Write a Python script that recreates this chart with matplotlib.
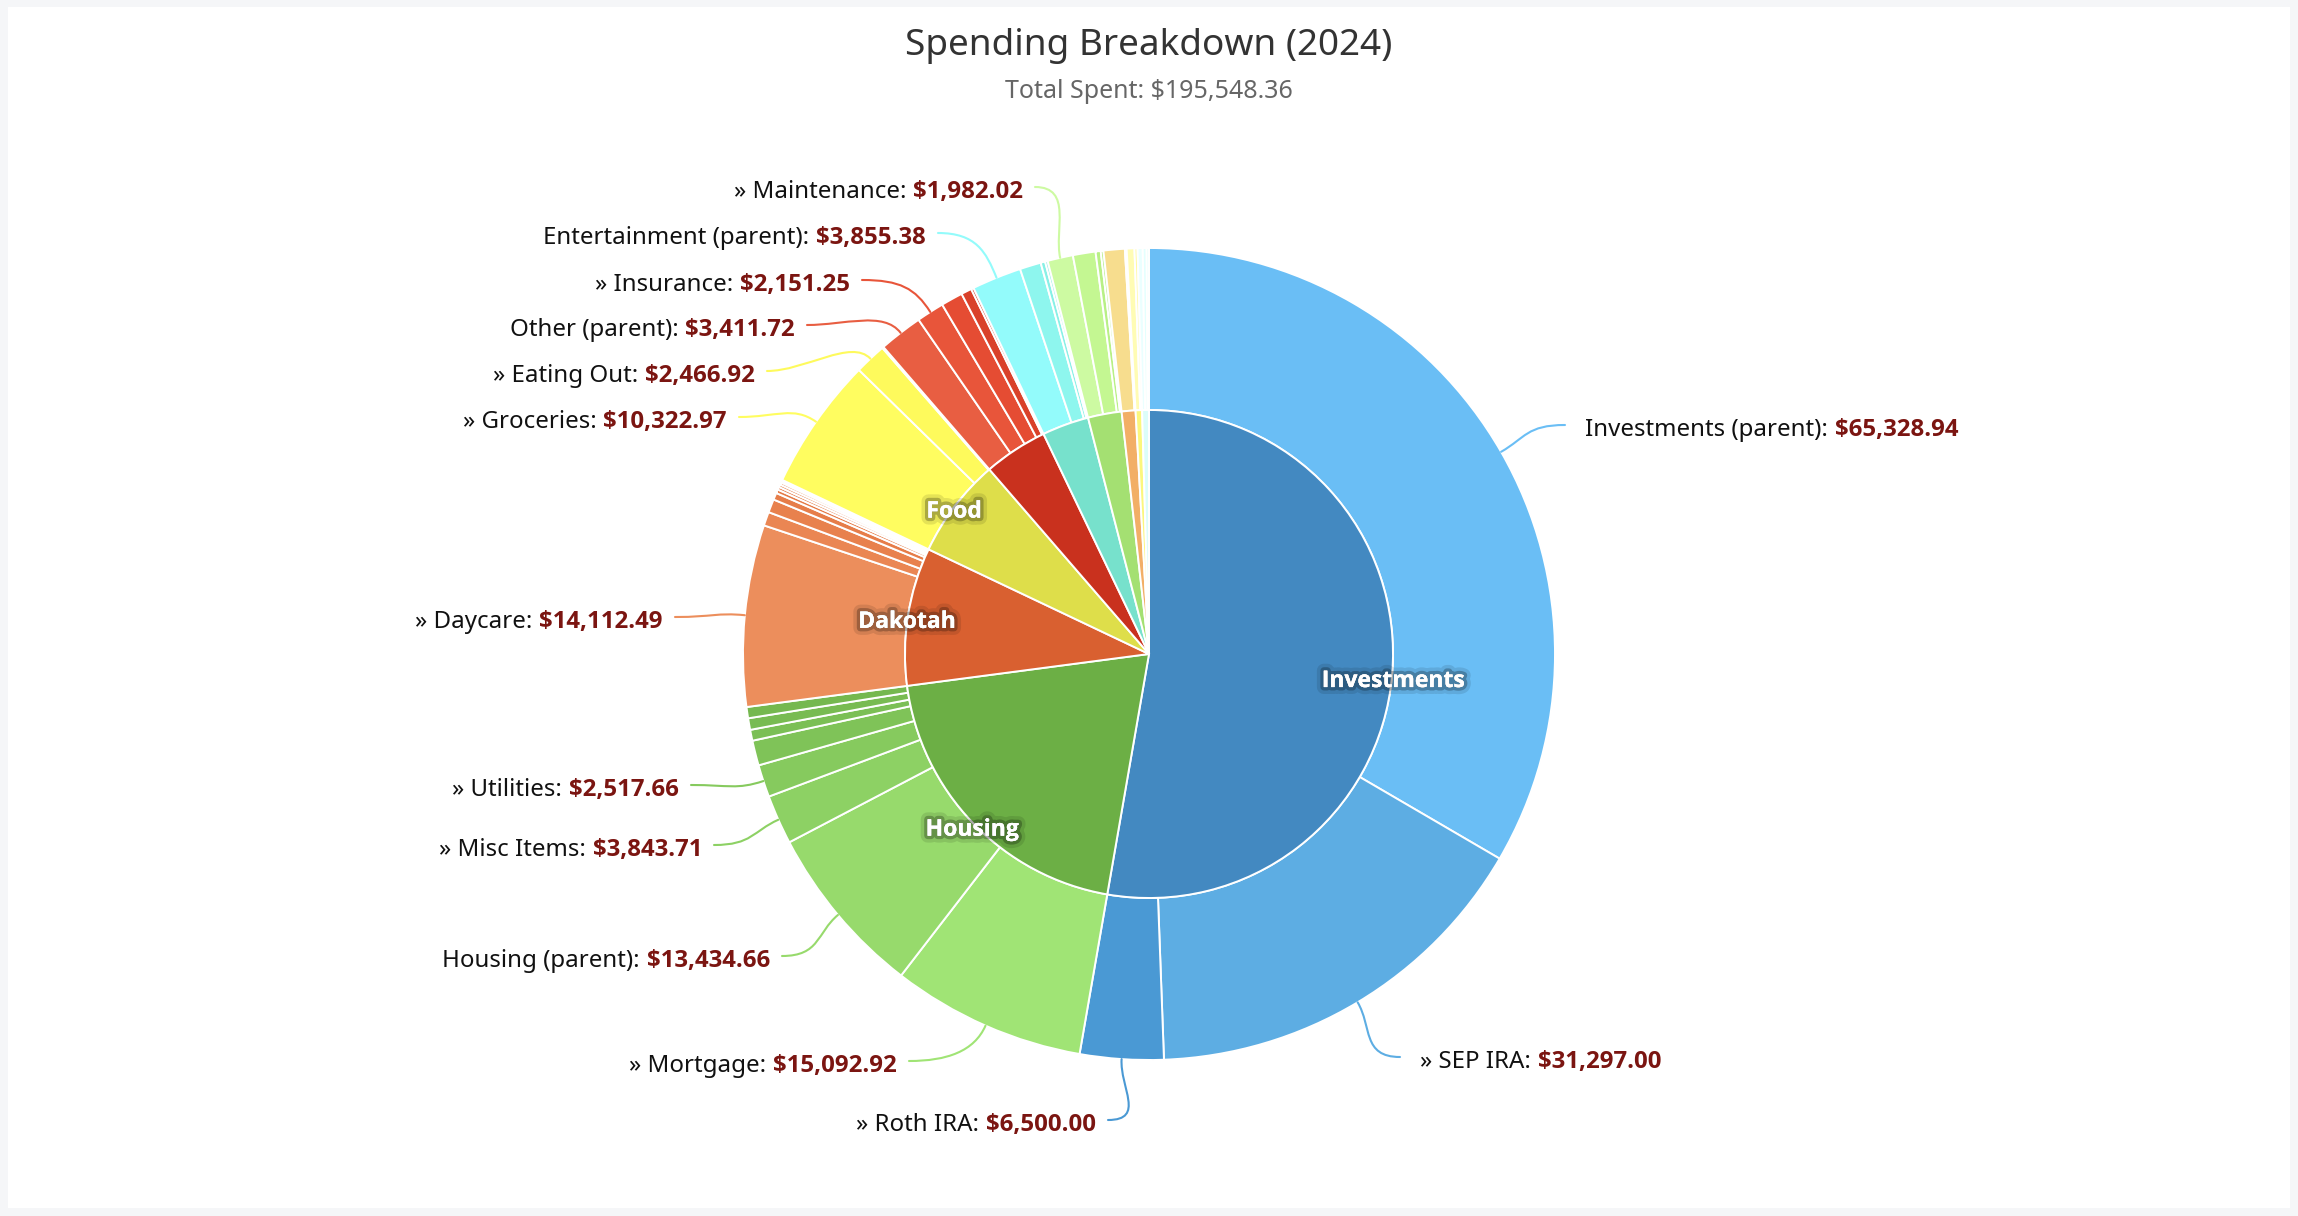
import matplotlib
matplotlib.use("Agg")
import matplotlib.pyplot as plt
from matplotlib.patches import Rectangle, PathPatch
from matplotlib.path import Path
import matplotlib.patheffects as pe
from matplotlib import font_manager as fm
import numpy as np

# ---------------- data ----------------
title = "Spending Breakdown (2024)"

categories = ["Investments", "Housing", "Dakotah", "Food", "Other",
              "Entertainment", "Group G", "Group O", "Group Y", "Group P"]
show_inner_label = [True, True, True, True, False, False, False, False, False, False]

investments_names = ["Investments (parent)", "» SEP IRA", "» Roth IRA"]
investments_values = [65328.94, 31297.00, 6500.00]

housing_names = ["» Mortgage", "Housing (parent)", "» Misc Items", "» Utilities",
                 "» H5", "» H6", "» H7", "» H8"]
housing_values = [15092.92, 13434.66, 3843.71, 2517.66, 1945.00, 850.00, 900.00, 873.00]

dakotah_names = ["» Daycare", "» D2", "» D3", "» D4", "» D5", "» D6", "» D7", "» D8", "» D9", "» D10"]
dakotah_values = [14112.49, 1075.00, 1040.00, 540.00, 290.00, 220.00, 200.00, 180.00, 120.00, 94.00]

food_names = ["» Groceries", "» Eating Out", "» F3"]
food_values = [10322.97, 2466.92, 110.00]

other_names = ["Other (parent)", "» Insurance", "» O3", "» O4", "» O5"]
other_values = [3411.72, 2151.25, 1700.00, 820.00, 200.00]

entertainment_names = ["Entertainment (parent)", "» E2", "» E3", "» E4"]
entertainment_values = [3855.38, 1650.00, 350.00, 200.00]

groupg_names = ["» Maintenance", "» G2", "» G3", "» G4"]
groupg_values = [1982.02, 1760.00, 400.00, 210.00]

groupo_names = ["» O1", "» O2"]
groupo_values = [1650.00, 137.00]

groupy_names = ["» Y1", "» Y2"]
groupy_values = [600.00, 236.00]

groupp_names = ["» P1", "» P2", "» P3"]
groupp_values = [400.00, 300.00, 180.72]

# ---------------- styles ----------------
inner_colors = ["#4389C1", "#6CAF45", "#D96030", "#DEDE4A", "#C9311E",
                "#77E1CC", "#A4E072", "#F2AF66", "#FBF77D", "#DCFDF9"]
outer_color_lists = [
    ["#6ABEF5", "#5DADE3", "#4A99D4"],
    ["#A0E475", "#97DA6C", "#8DD164", "#86CA5E", "#7FC358", "#7BBF55", "#78BB52", "#75B84F"],
    ["#EC8E5C", "#EA8653", "#E8814D", "#E67D49", "#E57A46", "#E47844", "#E37642", "#E27440", "#E1723E", "#E0703C"],
    ["#FFFD60", "#FEFA5C", "#F7F058"],
    ["#E85E42", "#E8553A", "#E54C33", "#D9412A", "#CF3A24"],
    ["#93FBFB", "#8EF6EE", "#88F0E6", "#84ECE0"],
    ["#CDFAA2", "#C4F792", "#B8F085", "#AEEA7C"],
    ["#F7DD8E", "#F5D182"],
    ["#FFFCB4", "#FFFAA0"],
    ["#EAFFFF", "#E4FFFE", "#DEFFFC"],
]

names_lists = [investments_names, housing_names, dakotah_names, food_names, other_names,
               entertainment_names, groupg_names, groupo_names, groupy_names, groupp_names]
values_lists = [investments_values, housing_values, dakotah_values, food_values, other_values,
                entertainment_values, groupg_values, groupo_values, groupy_values, groupp_values]

# label layout (pixel coords, y from top): side, x anchor, y centre
label_layout = {
    "Investments (parent)": ("right", 1585, 427),
    "» SEP IRA": ("right", 1420, 1059),
    "» Roth IRA": ("left", 1096, 1122),
    "» Mortgage": ("left", 897, 1063),
    "Housing (parent)": ("left", 770, 958),
    "» Misc Items": ("left", 702, 847),
    "» Utilities": ("left", 679, 787),
    "» Daycare": ("left", 663, 619),
    "» Groceries": ("left", 727, 419),
    "» Eating Out": ("left", 755, 373),
    "Other (parent)": ("left", 795, 327),
    "» Insurance": ("left", 850, 282),
    "Entertainment (parent)": ("left", 926, 235),
    "» Maintenance": ("left", 1023, 189),
}

W, H = 2298, 1216


def pick_bold_family():
    # choose an installed family that really has a bold face
    for fam in ["Open Sans", "Noto Sans", "Lato", "Roboto", "Liberation Sans", "DejaVu Sans"]:
        for f in fm.fontManager.ttflist:
            if f.name == fam and (f.weight in (700, "bold") or
                                  (isinstance(f.weight, int) and f.weight >= 650)):
                return fam
    return "DejaVu Sans"


REG_FAMILY = ["Noto Sans", "DejaVu Sans"]
BOLD_FAMILY = [pick_bold_family(), "DejaVu Sans"]
plt.rcParams["font.family"] = REG_FAMILY

fig = plt.figure(figsize=(W / 100, H / 100), dpi=100, facecolor="#F5F6F8")
ax = fig.add_axes([0, 0, 1, 1])


def Y(yp):
    return H - yp


ax.add_patch(Rectangle((8, Y(1208)), 2282, 1201, facecolor="white", edgecolor="none", zorder=0))

cx, cy = 1149, Y(654)
R_out, R_in = 406, 244

outer_vals = [v for vs in values_lists for v in vs]
outer_names = [n for ns in names_lists for n in ns]
outer_cols = [c for cs in outer_color_lists for c in cs]
inner_vals = [sum(vs) for vs in values_lists]
total = sum(outer_vals)

ax.pie(outer_vals, radius=R_out, center=(cx, cy), colors=outer_cols, startangle=90,
       counterclock=False, frame=True,
       wedgeprops=dict(width=R_out - R_in, edgecolor="white", linewidth=1.4))
ax.pie(inner_vals, radius=R_in, center=(cx, cy), colors=inner_colors, startangle=90,
       counterclock=False, frame=True,
       wedgeprops=dict(edgecolor="white", linewidth=1.4))

ax.set_xlim(0, W)
ax.set_ylim(0, H)
ax.set_aspect("equal")
ax.axis("off")


def polar(theta_deg, r):
    t = np.radians(theta_deg)
    return cx + r * np.sin(t), cy + r * np.cos(t)


# inner labels
cum = 0.0
for cat, v, show in zip(categories, inner_vals, show_inner_label):
    mid = 360.0 * (cum + v / 2) / total
    cum += v
    if not show:
        continue
    x, y = polar(mid, 245)
    ax.text(x, y - 6, cat, ha="center", va="center", fontsize=16.5, fontweight="bold",
            family=BOLD_FAMILY, color="white", zorder=6,
            path_effects=[pe.withStroke(linewidth=10, foreground=(0, 0, 0, 0.10)),
                          pe.withStroke(linewidth=5, foreground=(0, 0, 0, 0.25)),
                          pe.Normal()])

# title
ax.text(W / 2, Y(46), title, ha="center", va="center", fontsize=26.6, color="#333333")
ax.text(W / 2, Y(92), f"Total Spent: ${total:,.2f}", ha="center", va="center",
        fontsize=18, color="#666666")

renderer = fig.canvas.get_renderer()

# outer labels with connectors
cum = 0.0
for name, v, col in zip(outer_names, outer_vals, outer_cols):
    mid = 360.0 * (cum + v / 2) / total
    cum += v
    if name not in label_layout:
        continue
    side, xp, yp = label_layout[name]
    y = Y(yp)
    value_str = f"${v:,.2f}"
    if side == "right":
        t1 = ax.text(xp, y, f"{name}:", ha="left", va="center_baseline", fontsize=17.3,
                     color="#111111", zorder=6)
        w1 = t1.get_window_extent(renderer=renderer).width
        ax.text(xp + w1 + 7, y, value_str, ha="left", va="center_baseline", fontsize=17.3,
                fontweight="bold", family=BOLD_FAMILY, color="#7B1511", zorder=6)
        L = (xp - 20, y + 2)
        P1 = (L[0] - 38, L[1])
    else:
        t2 = ax.text(xp, y, value_str, ha="right", va="center_baseline", fontsize=17.3,
                     fontweight="bold", family=BOLD_FAMILY, color="#7B1511", zorder=6)
        w2 = t2.get_window_extent(renderer=renderer).width
        ax.text(xp - w2 - 7, y, f"{name}:", ha="right", va="center_baseline", fontsize=17.3,
                color="#111111", zorder=6)
        L = (xp + 12, y + 2)
        P1 = (L[0] + 38, L[1])
    S = polar(mid, R_out)
    S2 = polar(mid, R_out + 28)
    path = Path([L, P1, S2, S], [Path.MOVETO, Path.CURVE4, Path.CURVE4, Path.CURVE4])
    ax.add_patch(PathPatch(path, fill=False, edgecolor=col, linewidth=1.5, zorder=5,
                           capstyle="round"))

fig.savefig("out.png", dpi=100, facecolor=fig.get_facecolor())
